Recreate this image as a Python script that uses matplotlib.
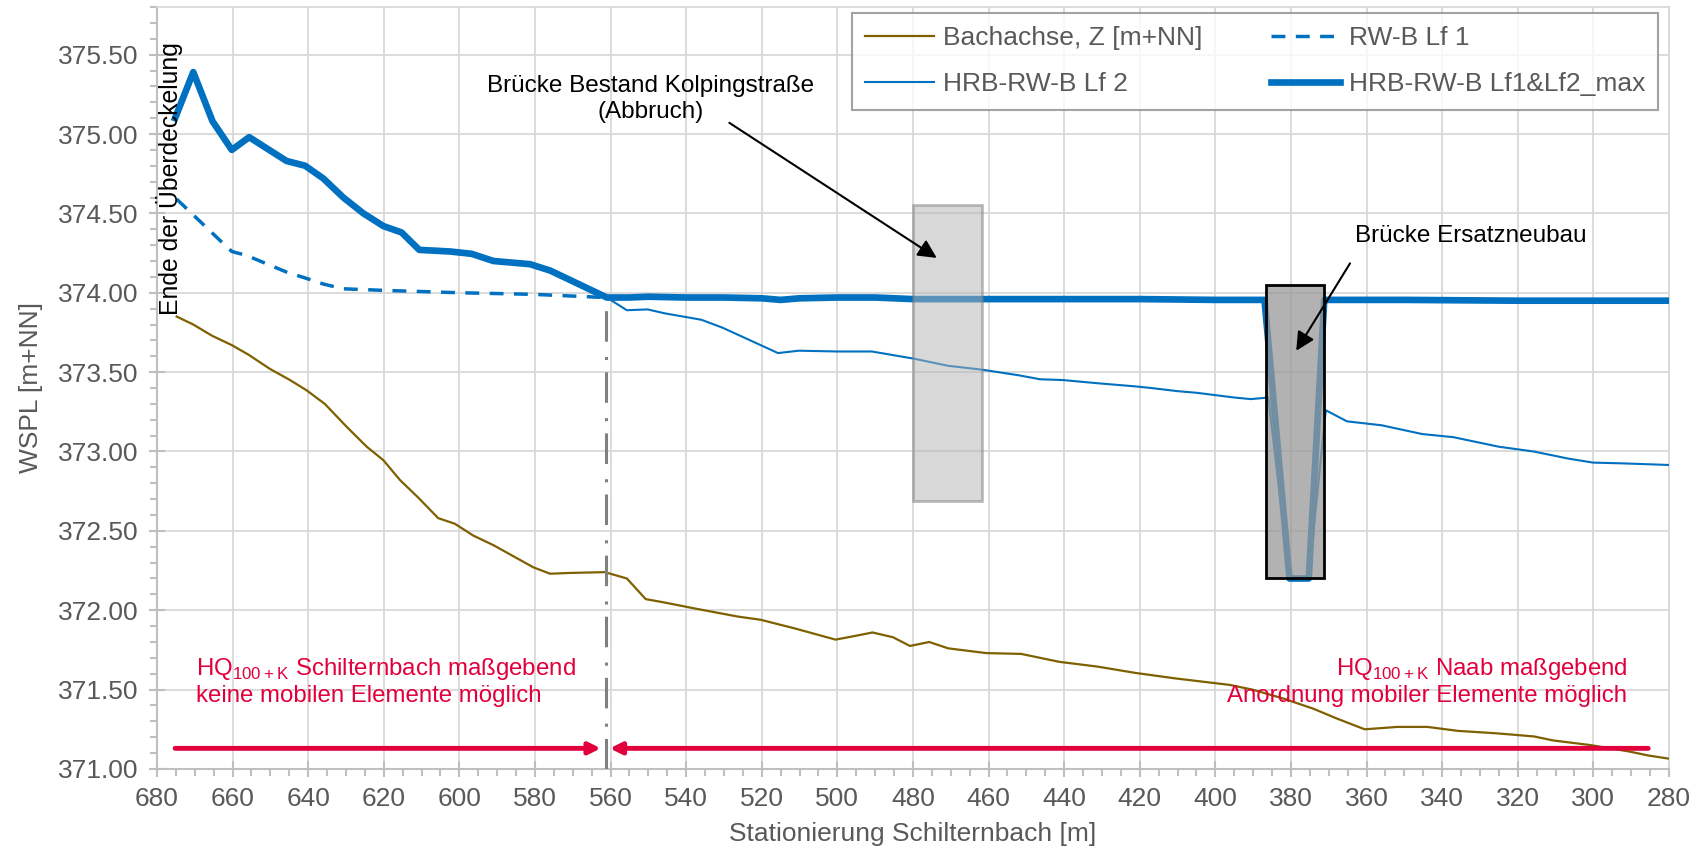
import matplotlib.pyplot as plt
from matplotlib.patches import Rectangle
from matplotlib.ticker import MultipleLocator, FormatStrFormatter

plt.rcParams['font.family'] = ['Liberation Sans', 'DejaVu Sans']
plt.rcParams['mathtext.fontset'] = 'custom'
plt.rcParams['mathtext.rm'] = 'Liberation Sans'

# Bachachse (bed)
st_bach = [674.8, 670.4, 665.5, 660.2, 655.8, 650.1, 644.8, 640.4, 635.6, 629.8,
           624.5, 620.1, 615.7, 610.9, 605.6, 601.2, 596.3, 591.0, 585.7, 580.4,
           576.0, 570.7, 561.5, 555.7, 550.7, 546.0, 537.5, 526.3, 520.3, 511.2,
           500.5, 496.0, 490.7, 485.3, 480.8, 475.7, 470.7, 460.6, 451.4, 441.3,
           431.2, 421.1, 410.4, 396.3, 390.2, 382.2, 374.1, 368.1, 360.5, 351.9,
           343.9, 335.8, 325.8, 315.7, 310.7, 300.6, 290.5, 285.5, 280.0]
z_bach = [373.85, 373.80, 373.73, 373.67, 373.61, 373.52, 373.45, 373.385, 373.30, 373.155,
          373.03, 372.945, 372.82, 372.71, 372.58, 372.545, 372.47, 372.41, 372.34, 372.27,
          372.23, 372.235, 372.24, 372.20, 372.07, 372.05, 372.01, 371.96, 371.94, 371.885,
          371.815, 371.835, 371.86, 371.83, 371.775, 371.80, 371.76, 371.73, 371.725, 371.675,
          371.645, 371.605, 371.57, 371.53, 371.50, 371.445, 371.38, 371.32, 371.25, 371.265,
          371.265, 371.24, 371.225, 371.205, 371.18, 371.15, 371.11, 371.085, 371.065]

# RW-B Lf 1
st_lf1 = [674.8, 662.9, 660.2, 656.3, 645.7, 640.4, 636.0, 630.7, 620.1, 599.8, 580.4, 561.3]
w_lf1 = [374.59, 374.32, 374.26, 374.235, 374.13, 374.09, 374.055, 374.025, 374.015, 374.00, 373.99, 373.97]

# HRB-RW-B Lf 2
st_lf2 = [675.2, 670.4, 665.3, 660.2, 655.6, 651.0, 645.7, 640.8, 636.0, 630.7,
          625.4, 620.1, 615.3, 610.6, 602.5, 596.7, 591.0, 581.3, 576.0, 570.7,
          565.4, 561.0, 555.7, 550.2, 545.6, 536.0, 530.4, 515.7, 510.2, 500.0,
          490.9, 479.8, 470.7, 461.6, 452.0, 446.4, 440.3, 431.2, 421.1, 417.0,
          410.0, 405.0, 395.0, 390.6, 386.0, 380.4, 375.3, 370.8, 365.2, 356.0,
          345.3, 337.0, 325.0, 315.8, 306.6, 300.1, 291.9, 280.0]
w_lf2 = [375.10, 375.39, 375.08, 374.90, 374.98, 374.91, 374.83, 374.80, 374.72, 374.60,
         374.50, 374.42, 374.38, 374.27, 374.26, 374.245, 374.20, 374.18, 374.14, 374.08,
         374.02, 373.97, 373.89, 373.895, 373.87, 373.83, 373.78, 373.62, 373.635, 373.63,
         373.63, 373.585, 373.54, 373.515, 373.48, 373.455, 373.45, 373.43, 373.41, 373.40,
         373.38, 373.37, 373.34, 373.33, 373.34, 372.20, 372.20, 373.26, 373.19, 373.165,
         373.11, 373.09, 373.03, 373.00, 372.955, 372.93, 372.925, 372.915]

# HRB-RW-B Lf1&Lf2_max
st_max = [675.2, 670.4, 665.3, 660.2, 655.6, 651.0, 645.7, 640.8, 636.0, 630.7,
          625.4, 620.1, 615.3, 610.6, 602.5, 596.7, 591.0, 581.3, 576.0, 570.7,
          565.4, 561.0, 555.0, 550.0, 540.0, 530.0, 520.0, 515.0, 510.0, 500.0,
          490.0, 480.0, 470.0, 460.0, 440.0, 420.0, 400.0, 387.0, 380.4, 375.3,
          371.2, 370.0, 350.0, 320.0, 300.0, 280.0]
w_max = [375.10, 375.39, 375.08, 374.90, 374.98, 374.91, 374.83, 374.80, 374.72, 374.60,
         374.50, 374.42, 374.38, 374.27, 374.26, 374.245, 374.20, 374.18, 374.14, 374.08,
         374.02, 373.97, 373.97, 373.975, 373.97, 373.97, 373.965, 373.955, 373.965, 373.97,
         373.97, 373.96, 373.96, 373.96, 373.96, 373.96, 373.955, 373.955, 372.20, 372.20,
         373.955, 373.955, 373.955, 373.95, 373.95, 373.95]

# bridges: (station left, station right, z bottom, z top)
bridge_old = (480.0, 461.8, 372.69, 374.55)
bridge_new = (386.7, 371.3, 372.20, 374.05)
st_border = 561.3
red_y = 371.13

grey = '#595959'
blue = '#0070c0'
red = '#e2003c'

fig = plt.figure(figsize=(16.97, 8.55), dpi=100)
ax = fig.add_axes([0.0925, 0.1006, 0.891, 0.8912])

l_bach, = ax.plot(st_bach, z_bach, color='#7f6000', lw=1.6, label='Bachachse, Z [m+NN]', zorder=3)
l_lf2, = ax.plot(st_lf2, w_lf2, color=blue, lw=1.5, label='HRB-RW-B Lf 2', zorder=3)
l_lf1, = ax.plot(st_lf1, w_lf1, color=blue, lw=2.5, ls=(0, (4, 3)), label='RW-B Lf 1', zorder=3)
l_max, = ax.plot(st_max, w_max, color=blue, lw=4.8, label='HRB-RW-B Lf1&Lf2_max', zorder=4,
                 solid_joinstyle='round')

ax.plot([st_border, st_border], [371.0, 373.95], color='#808080', lw=2.2,
        ls=(0, (10, 4, 1, 5)), zorder=5)

ax.add_patch(Rectangle((bridge_old[1], bridge_old[2]), bridge_old[0] - bridge_old[1],
                       bridge_old[3] - bridge_old[2], facecolor='#b3b3b3', alpha=0.5,
                       edgecolor='#7f7f7f', lw=2, zorder=6))
ax.add_patch(Rectangle((bridge_new[1], bridge_new[2]), bridge_new[0] - bridge_new[1],
                       bridge_new[3] - bridge_new[2], facecolor='#999999', alpha=0.75,
                       edgecolor='none', zorder=6))
ax.add_patch(Rectangle((bridge_new[1], bridge_new[2]), bridge_new[0] - bridge_new[1],
                       bridge_new[3] - bridge_new[2], facecolor='none',
                       edgecolor='black', lw=2, zorder=6))

# annotations
ax.annotate('', xy=(473.1, 374.21), xytext=(529.2, 375.08),
            arrowprops=dict(arrowstyle='-|>', lw=1.5, color='black', mutation_scale=28), zorder=7)
ax.text(549.5, 375.22, 'Brücke Bestand Kolpingstraße\n(Abbruch)', ha='center', va='center',
        fontsize=17.5, color='black', linespacing=1.2, zorder=7)
ax.annotate('', xy=(379.0, 373.62), xytext=(364.0, 374.20),
            arrowprops=dict(arrowstyle='-|>', lw=1.5, color='black', mutation_scale=28), zorder=7)
ax.text(332.4, 374.36, 'Brücke Ersatzneubau', ha='center', va='center',
        fontsize=17.5, color='black', zorder=7)
ax.text(676.6, 374.72, 'Ende der Überdeckelung', rotation=90, ha='center', va='center',
        fontsize=17.8, color='black', zorder=7)

ax.annotate('', xy=(562.6, red_y), xytext=(675.2, red_y),
            arrowprops=dict(arrowstyle='-|>', lw=3.5, color=red, mutation_scale=17,
                            shrinkA=0, shrinkB=0), zorder=7)
ax.annotate('', xy=(560.2, red_y), xytext=(285.5, red_y),
            arrowprops=dict(arrowstyle='-|>', lw=3.5, color=red, mutation_scale=17,
                            shrinkA=0, shrinkB=0), zorder=7)
ax.text(669.8, 371.55, 'HQ$_{\\mathrm{100+K}}$ Schilternbach maßgebend\nkeine mobilen Elemente möglich',
        ha='left', va='center', fontsize=17.3, color=red, linespacing=1.15, zorder=7)
ax.text(291.0, 371.55, 'HQ$_{\\mathrm{100+K}}$ Naab maßgebend\nAnordnung mobiler Elemente möglich',
        ha='right', va='center', fontsize=17.3, color=red, linespacing=1.15, multialignment='right',
        zorder=7)

ax.set_xlim(680, 280)
ax.set_ylim(371.0, 375.8)
ax.xaxis.set_major_locator(MultipleLocator(20))
ax.xaxis.set_minor_locator(MultipleLocator(5))
ax.yaxis.set_major_locator(MultipleLocator(0.5))
ax.yaxis.set_minor_locator(MultipleLocator(0.1))
ax.yaxis.set_major_formatter(FormatStrFormatter('%.2f'))
ax.xaxis.set_major_formatter(FormatStrFormatter('%d'))

ax.grid(which='major', color='#d9d9d9', lw=1.3, zorder=0)
ax.set_axisbelow(True)
for s in ['top', 'right']:
    ax.spines[s].set_color('#d9d9d9')
    ax.spines[s].set_linewidth(1.3)
for s in ['left', 'bottom']:
    ax.spines[s].set_color('#bfbfbf')
    ax.spines[s].set_linewidth(1.5)
ax.tick_params(which='major', direction='inout', length=12, width=1.5, color='#bfbfbf',
               labelsize=19, labelcolor=grey, pad=7)
ax.tick_params(which='minor', direction='out', length=5, width=1.5, color='#bfbfbf')

ax.set_xlabel('Stationierung Schilternbach [m]', fontsize=19, color=grey, labelpad=8)
ax.set_ylabel('WSPL [m+NN]', fontsize=19, color=grey, labelpad=11)

leg = ax.legend(handles=[l_bach, l_lf2, l_lf1, l_max], ncol=2, loc='upper left',
                bbox_to_anchor=(0.4597, 0.9925), fontsize=19, frameon=True, fancybox=False,
                handlelength=2.6, handletextpad=0.35, columnspacing=2.6, labelspacing=0.85,
                borderpad=0.5, borderaxespad=0)
leg.get_frame().set_edgecolor('#8c8c8c')
leg.get_frame().set_linewidth(1.5)
leg.set_zorder(10)
for t in leg.get_texts():
    t.set_color(grey)

fig.savefig('out.png', dpi=100)
